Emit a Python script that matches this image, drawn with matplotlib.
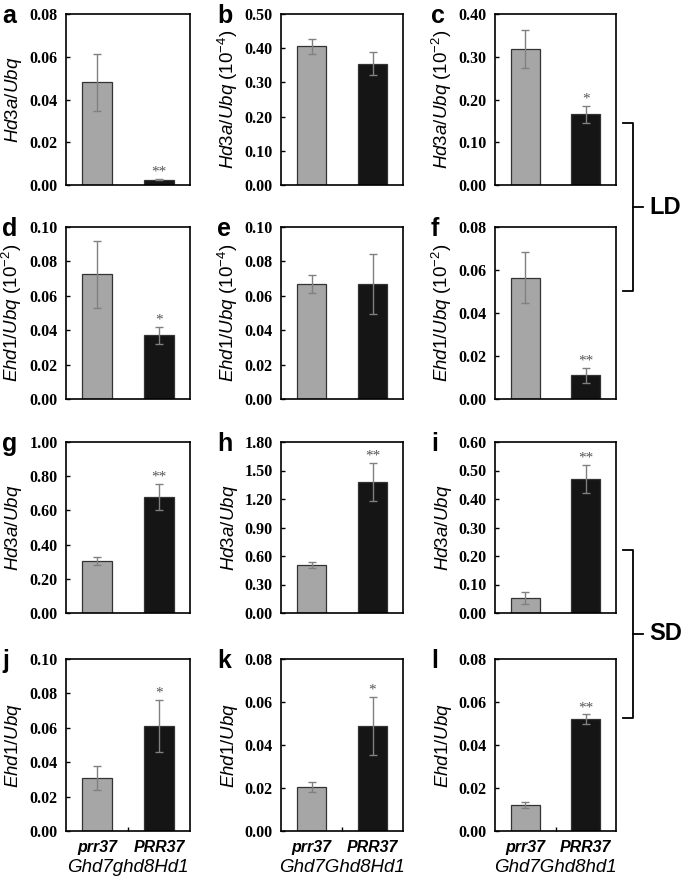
import matplotlib
matplotlib.use("Agg")
import matplotlib.pyplot as plt
from matplotlib.lines import Line2D

plt.rcParams['mathtext.fontset'] = 'custom'
plt.rcParams['mathtext.rm'] = 'Liberation Sans'
plt.rcParams['mathtext.it'] = 'Liberation Sans:italic'
plt.rcParams['mathtext.bf'] = 'Liberation Sans:bold'

# panel data: (gray mean, black mean), (gray err, black err)
letters = list("abcdefghijkl")
means = [
    [0.048, 0.0025], [0.405, 0.355], [0.318, 0.165],
    [0.0725, 0.037], [0.067, 0.067], [0.0565, 0.011],
    [0.305, 0.68], [0.505, 1.38], [0.052, 0.47],
    [0.031, 0.061], [0.0205, 0.049], [0.012, 0.052],
]
errs = [
    [0.0135, 0.0003], [0.022, 0.033], [0.045, 0.02],
    [0.0195, 0.005], [0.0053, 0.0175], [0.012, 0.0035],
    [0.023, 0.075], [0.028, 0.2], [0.02, 0.05],
    [0.007, 0.0153], [0.0025, 0.0135], [0.0015, 0.0023],
]
stars = ["**", "", "*", "*", "", "**", "**", "**", "**", "*", "*", "**"]
ymax = [0.08, 0.50, 0.40, 0.10, 0.10, 0.08, 1.00, 1.80, 0.60, 0.10, 0.08, 0.08]
ystep = [0.02, 0.10, 0.10, 0.02, 0.02, 0.02, 0.20, 0.30, 0.10, 0.02, 0.02, 0.02]
ylabels = [
    r"$\it{Hd3a/Ubq}$", r"$\it{Hd3a/Ubq}$ (10$^{-4}$)", r"$\it{Hd3a/Ubq}$ (10$^{-2}$)",
    r"$\it{Ehd1/Ubq}$ (10$^{-2}$)", r"$\it{Ehd1/Ubq}$ (10$^{-4}$)", r"$\it{Ehd1/Ubq}$ (10$^{-2}$)",
    r"$\it{Hd3a/Ubq}$", r"$\it{Hd3a/Ubq}$", r"$\it{Hd3a/Ubq}$",
    r"$\it{Ehd1/Ubq}$", r"$\it{Ehd1/Ubq}$", r"$\it{Ehd1/Ubq}$",
]
genotypes = ["prr37", "PRR37"]
backgrounds = ["Ghd7ghd8Hd1", "Ghd7Ghd8Hd1", "Ghd7Ghd8hd1"]
bar_colors = ["#a6a6a6", "#151515"]

W, H = 685, 876
fig = plt.figure(figsize=(W / 100, H / 100), dpi=100)

cols = [(66, 190), (281, 403), (495, 616)]
rows = [(14, 185), (227, 399), (442, 613), (659, 831)]

for i in range(12):
    r, c = divmod(i, 3)
    x0, x1 = cols[c]
    y0, y1 = rows[r]
    ax = fig.add_axes([x0 / W, 1 - y1 / H, (x1 - x0) / W, (y1 - y0) / H])
    ax.bar([0, 1], means[i], width=0.48, color=bar_colors,
           edgecolor="#333333", linewidth=0.9, zorder=2)
    ax.errorbar([0, 1], means[i], yerr=errs[i], fmt="none", ecolor="#808080",
                elinewidth=1.0, capsize=3, capthick=1.0, zorder=3)
    top = means[i][1] + errs[i][1]
    if stars[i]:
        ax.text(1, top, stars[i], ha="center", va="bottom",
                fontsize=11, color="#555555", family="Liberation Serif")
    ax.set_xlim(-0.5, 1.5)
    ax.set_ylim(0, ymax[i])
    n = int(round(ymax[i] / ystep[i]))
    ticks = [k * ystep[i] for k in range(n + 1)]
    ax.set_yticks(ticks)
    ax.set_yticklabels([f"{t:.2f}" for t in ticks], family="Liberation Serif",
                       fontweight="bold", fontsize=11.5)
    ax.tick_params(axis="y", direction="in", length=3, width=1, pad=6)
    for s in ax.spines.values():
        s.set_linewidth(1.2)
    if r == 3:
        ax.set_xticks([0.5])
        ax.set_xticklabels([""])
        ax.tick_params(axis="x", direction="in", length=3, width=1)
        for k, g in enumerate(genotypes):
            ax.text(k, -0.095, g, transform=ax.get_xaxis_transform(), ha="center",
                    va="center", fontsize=11.5, fontweight="bold", style="italic",
                    family="Liberation Sans")
        ax.text(0.5, -0.21, backgrounds[c], transform=ax.get_xaxis_transform(),
                ha="center", va="center", fontsize=13.5, style="italic",
                family="Liberation Sans")
    else:
        ax.set_xticks([])
    ax.set_ylabel(ylabels[i], fontsize=13.5, family="Liberation Sans")
    ax.yaxis.set_label_coords(-0.335, 0.5)
    fig.text((x0 - 64) / W, 1 - (y0 - 10) / H, letters[i], fontsize=18,
             fontweight="bold", family="Liberation Sans", va="top", ha="left")

# LD / SD brackets
def bracket(ytop, ybot, label):
    xs, xv, xm = 623, 633, 643
    ym = (ytop + ybot) / 2
    kw = dict(color="black", linewidth=1.3, transform=fig.transFigure)
    fig.add_artist(Line2D([xs / W, xv / W, xv / W, xs / W],
                          [1 - ytop / H, 1 - ytop / H, 1 - ybot / H, 1 - ybot / H], **kw))
    fig.add_artist(Line2D([xv / W, xm / W], [1 - ym / H, 1 - ym / H], **kw))
    fig.text(649 / W, 1 - ym / H, label, fontsize=17, fontweight="bold",
             family="Liberation Sans", va="center", ha="left")

bracket(123, 291, "LD")
bracket(550, 718, "SD")

fig.savefig("out.png", dpi=100)
